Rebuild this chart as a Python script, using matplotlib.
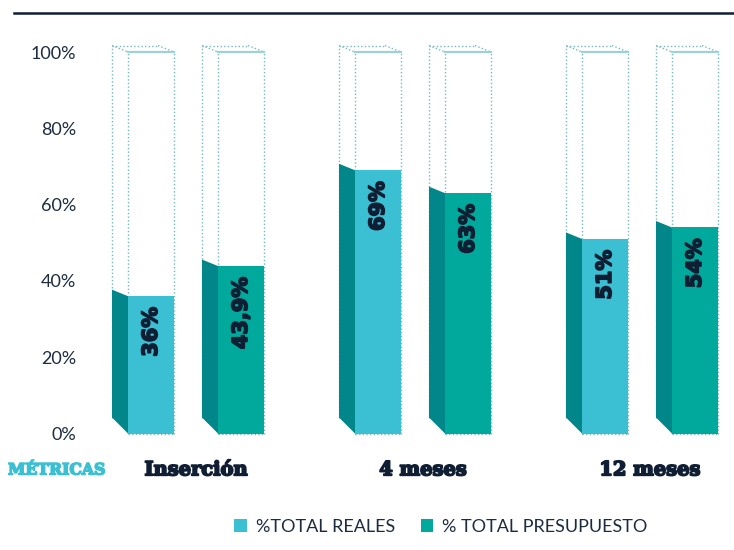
import matplotlib
matplotlib.use("Agg")
import matplotlib.pyplot as plt
from matplotlib.patches import Polygon, Patch
from matplotlib.lines import Line2D
import matplotlib.patheffects as pe

categories = ["Inserción", "4 meses", "12 meses"]
series_names = ["%TOTAL REALES", "% TOTAL PRESUPUESTO"]
reales = [36, 69, 51]
presupuesto = [43.9, 63, 54]
value_labels_reales = ["36%", "69%", "51%"]
value_labels_presu = ["43,9%", "63%", "54%"]
yticks = [0, 20, 40, 60, 80, 100]
ytick_labels = ["0%", "20%", "40%", "60%", "80%", "100%"]

C_REAL = "#3bc0d3"
C_PRES = "#00a99b"
C_SIDE = "#01878a"
C_DOT = "#73b9c1"
C_TEXT = "#0f1e33"

fig = plt.figure(figsize=(7.34, 5.5), dpi=100)
ax = fig.add_axes([80/734, 1-433.5/550, 654/734, (433.5-52)/550])
ax.set_xlim((80-196)/227, (734-196)/227)
ax.set_ylim(0, 100)
for s in ax.spines.values():
    s.set_visible(False)

hw = 23/227          # half front width
off = 45/227         # offset of bars from group center
dx = -16/227         # depth x
dyb = 16/3.815       # depth y at bottom (back edge is higher)
dyt = 6.5/3.815      # depth y at top

def draw_bar(xc, val, color, label):
    x0, x1 = xc - hw, xc + hw
    kw = dict(color=C_DOT, lw=1.0, ls=(0, (1, 1.6)), clip_on=False, zorder=1)
    ax.plot([x0+dx, x0+dx], [dyb, 100+dyt], **kw)
    ax.plot([x0, x0], [0, 100], **kw)
    ax.plot([x1, x1], [0, 100], **kw)
    ax.plot([x0, x1], [0, 0], **kw)
    ax.plot([x0+dx, x1+dx], [100+dyt, 100+dyt], **kw)
    ax.plot([x0+dx, x0], [100+dyt, 100], **kw)
    ax.plot([x1+dx, x1], [100+dyt, 100], **kw)
    ax.plot([x0, x1], [100, 100], color="#9fd0d5", lw=1.6, clip_on=False, zorder=1)
    side = Polygon([(x0+dx, dyb), (x0, 0), (x0, val), (x0+dx, val+dyt)],
                   closed=True, facecolor=C_SIDE, edgecolor="none", clip_on=False, zorder=2)
    ax.add_patch(side)
    ax.bar(xc, val, width=2*hw, color=color, zorder=3)
    ax.text(xc, val - 2.8, label, rotation=90, ha="center", va="top",
            fontsize=15, fontweight="heavy", family=["DejaVu Sans"], color=C_TEXT, zorder=4,
            path_effects=[pe.withStroke(linewidth=1.2, foreground=C_TEXT)])

for i in range(len(categories)):
    draw_bar(i - off, reales[i], C_REAL, value_labels_reales[i])
    draw_bar(i + off, presupuesto[i], C_PRES, value_labels_presu[i])

ax.set_yticks(yticks)
ax.set_yticklabels(ytick_labels, fontsize=13, family="Lato", color="#1c2b40")
ax.set_xticks(range(len(categories)))
ax.set_xticklabels(categories, fontsize=14, fontweight="bold", family="DejaVu Serif", color=C_TEXT)
for t in ax.get_xticklabels():
    t.set_path_effects([pe.withStroke(linewidth=1.3, foreground=C_TEXT)])
ax.tick_params(axis="y", length=0, pad=3)
ax.tick_params(axis="x", length=0, pad=20)

fig.text(8/734, 1-470/550, "MÉTRICAS", fontsize=11.3, fontweight="bold", family="DejaVu Serif",
         color=C_REAL, ha="left", va="center",
         path_effects=[pe.withStroke(linewidth=1.1, foreground=C_REAL)])

fig.add_artist(Line2D([14/734, 1], [1-13/550, 1-13/550], color=C_TEXT, lw=1.8))

handles = [Patch(facecolor=C_REAL), Patch(facecolor=C_PRES)]
fig.legend(handles, series_names, loc="center", bbox_to_anchor=(441/734, 1-527/550),
           ncol=2, frameon=False, prop=dict(family="Lato", size=13), labelcolor="#1c2b40",
           handlelength=0.7, handleheight=0.7, handletextpad=0.5, columnspacing=1.4)

fig.savefig("out.png", dpi=100)
